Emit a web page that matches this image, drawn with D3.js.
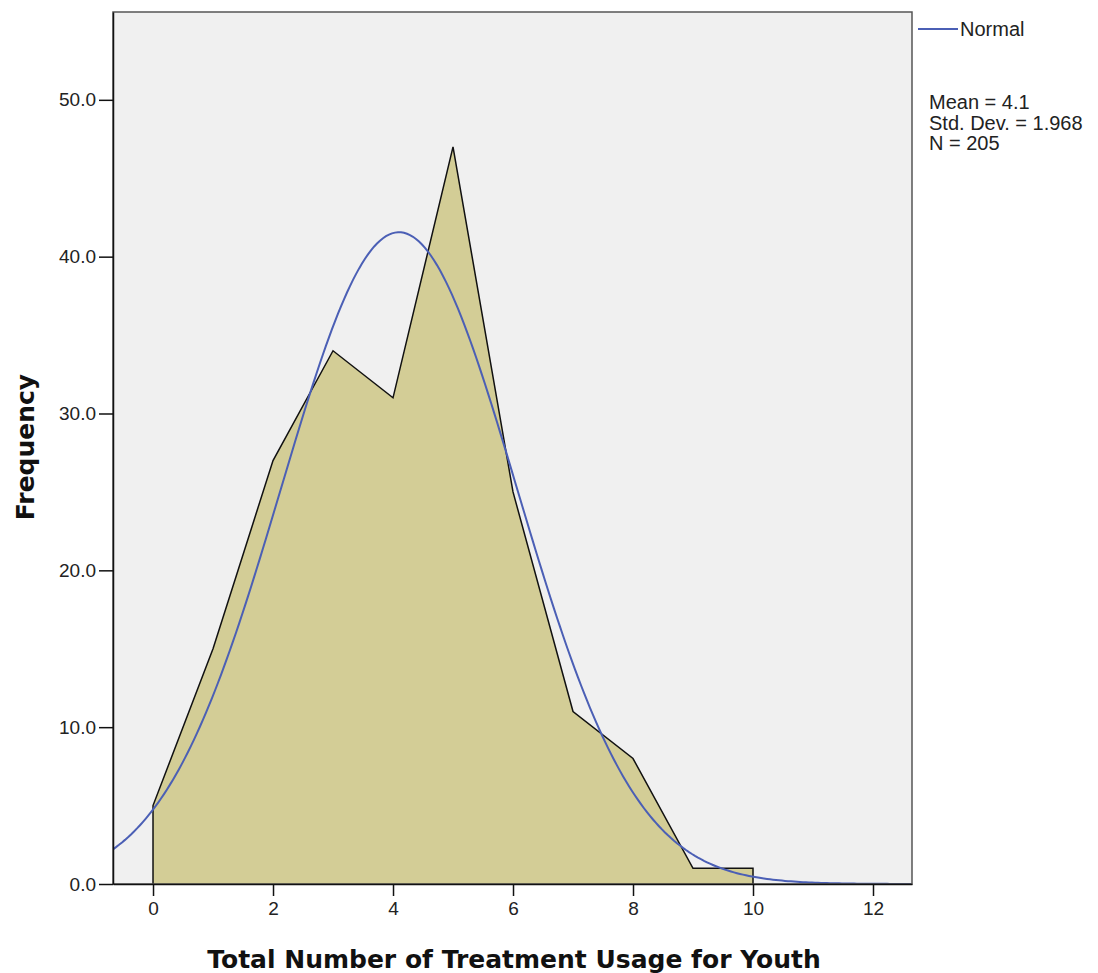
<!DOCTYPE html>
<html>
<head>
<meta charset="utf-8">
<script src="https://cdn.jsdelivr.net/npm/d3@7"></script>
<style>
  body { margin: 0; background: #fff; }
  .tick text { font-family: "Liberation Sans", Arial, sans-serif; font-size: 19px; fill: #222; }
  .axisTitle { font-family: "DejaVu Sans", Verdana, sans-serif; font-weight: bold; font-size: 25px; fill: #111; }
  .info { font-family: "Liberation Sans", Arial, sans-serif; font-size: 20px; fill: #222; }
</style>
</head>
<body>
<div id="chart"></div>
<script>
// frequency of each value (frequency polygon)
var usageValues = [0, 1, 2, 3, 4, 5, 6, 7, 8, 9, 10];
var frequencies = [5, 15, 27, 34, 31, 47, 25, 11, 8, 1, 1];
var xTicks = [0, 2, 4, 6, 8, 10, 12];
var yTicks = [0, 10, 20, 30, 40, 50];
var statLines = ["Mean = 4.1", "Std. Dev. = 1.968", "N = 205"];
var stats = { mean: 4.1, sd: 1.968, n: 205 };

var svgWidth = 1098;
var svgHeight = 973;

var margin = { top: 12, right: 186, left: 113, bottom: 89 };
var width = svgWidth - margin.left - margin.right;
var height = svgHeight - margin.top - margin.bottom;

var svg = d3.select("#chart")
  .append("svg")
  .attr("width", svgWidth)
  .attr("height", svgHeight);

var chartGroup = svg.append("g")
  .attr("transform", `translate(${margin.left}, ${margin.top})`);

var x = d3.scaleLinear()
  .domain([-0.667, 12.65])
  .range([0, width]);

var y = d3.scaleLinear()
  .domain([0, 55.6])
  .range([height, 0]);

// plot background
chartGroup.append("rect")
  .attr("width", width)
  .attr("height", height)
  .attr("fill", "#f0f0f0");

chartGroup.append("clipPath")
  .attr("id", "clip")
  .append("rect")
  .attr("width", width)
  .attr("height", height);

// polygon with closing drops at both ends
var polyPts = [[usageValues[0], 0]]
  .concat(usageValues.map((v, i) => [v, frequencies[i]]))
  .concat([[usageValues[usageValues.length - 1], 0]]);

chartGroup.append("path")
  .datum(polyPts)
  .attr("d", d3.line().x(d => x(d[0])).y(d => y(d[1])))
  .attr("fill", "#d3cd96")
  .attr("stroke", "#111")
  .attr("stroke-width", 1.5)
  .attr("stroke-linejoin", "miter");

// fitted normal curve from the reported stats
var curveXs = d3.range(x.domain()[0], x.domain()[1] + 0.01, 0.05);
var normal = xv => stats.n / (stats.sd * Math.sqrt(2 * Math.PI)) *
  Math.exp(-0.5 * Math.pow((xv - stats.mean) / stats.sd, 2));

chartGroup.append("path")
  .datum(curveXs)
  .attr("clip-path", "url(#clip)")
  .attr("d", d3.line().x(d => x(d)).y(d => y(normal(d))))
  .attr("fill", "none")
  .attr("stroke", "#4b5fb5")
  .attr("stroke-width", 2);

// frame
chartGroup.append("rect")
  .attr("width", width)
  .attr("height", height)
  .attr("fill", "none")
  .attr("stroke", "#555")
  .attr("stroke-width", 1.5);

var xAxis = chartGroup.append("g")
  .attr("transform", `translate(0, ${height})`)
  .call(d3.axisBottom(x).tickValues(xTicks).tickSize(12).tickSizeOuter(0).tickPadding(6).tickFormat(d3.format("d")));
xAxis.select(".domain").attr("stroke", "#111").attr("stroke-width", 1.5);
xAxis.selectAll(".tick line").attr("stroke", "#111").attr("stroke-width", 1.5);

var yAxis = chartGroup.append("g")
  .call(d3.axisLeft(y).tickValues(yTicks).tickSize(14).tickSizeOuter(0).tickPadding(3).tickFormat(d3.format(".1f")));
yAxis.select(".domain").attr("stroke", "#111").attr("stroke-width", 1.5);
yAxis.selectAll(".tick line").attr("stroke", "#111").attr("stroke-width", 1.5);

chartGroup.append("text")
  .attr("class", "axisTitle")
  .attr("x", 401)
  .attr("y", height + 84)
  .attr("text-anchor", "middle")
  .text("Total Number of Treatment Usage for Youth");

chartGroup.append("text")
  .attr("class", "axisTitle")
  .attr("transform", `translate(${-79}, ${435}) rotate(-90)`)
  .attr("text-anchor", "middle")
  .text("Frequency");

// legend
var legend = svg.append("g");
legend.append("line")
  .attr("x1", 918).attr("x2", 958)
  .attr("y1", 29).attr("y2", 29)
  .attr("stroke", "#4b5fb5")
  .attr("stroke-width", 2);
legend.append("text")
  .attr("class", "info")
  .attr("x", 960).attr("y", 36)
  .text("Normal");

legend.selectAll(".stat")
  .data(statLines)
  .enter()
  .append("text")
  .attr("class", "info")
  .attr("x", 929)
  .attr("y", (d, i) => 109 + i * 20.5)
  .text(d => d);
</script>
</body>
</html>
